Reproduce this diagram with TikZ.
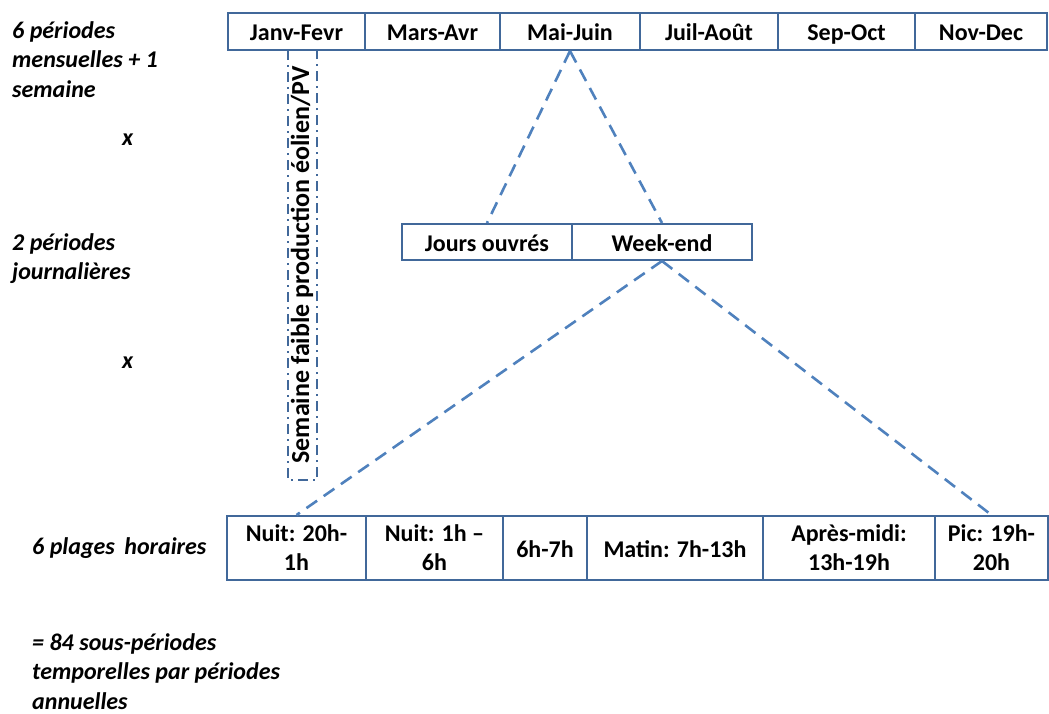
\documentclass[tikz,border=0pt]{standalone}
\usepackage{fontspec}
\setmainfont{Carlito}
\begin{document}
\begin{tikzpicture}[x=1pt,y=-1pt,
  cell/.style={draw=boxblue, line width=2pt, inner sep=0pt, font=\fontsize{24}{29}\selectfont\bfseries, align=center},
  one/.style={text height=20pt, text depth=2pt},
  lab/.style={anchor=north west, inner sep=0pt, font=\fontsize{24}{29.5}\selectfont\bfseries\itshape, align=left},
  link/.style={draw=linkblue, line width=2.6pt, dash pattern=on 13pt off 8pt},
  weekbox/.style={draw=boxblue, line width=2pt, dash pattern=on 10pt off 5pt on 2pt off 5pt, inner sep=0pt, font=\fontsize{26}{30}\selectfont\bfseries}]
\definecolor{boxblue}{HTML}{41689A}
\definecolor{linkblue}{HTML}{4F81BD}
\useasboundingbox (0,0) rectangle (1049,713);
% top row
\node[cell, one, minimum width=137pt, minimum height=37pt] (t1) at (296.5,31.5) {Janv-Fevr};
\node[cell, one, minimum width=135pt, minimum height=37pt] (t2) at (432.5,31.5) {Mars-Avr};
\node[cell, one, minimum width=140pt, minimum height=37pt] (t3) at (570,31.5) {Mai-Juin};
\node[cell, one, minimum width=138pt, minimum height=37pt] (t4) at (709,31.5) {Juil-Août};
\node[cell, one, minimum width=137pt, minimum height=37pt] (t5) at (846.5,31.5) {Sep-Oct};
\node[cell, one, minimum width=132pt, minimum height=37pt] (t6) at (981,31.5) {Nov-Dec};
% week box
\node[weekbox, rotate=90, text height=19pt, text depth=6pt, minimum width=430pt, minimum height=29pt] (wk) at (302.5,265) {Semaine faible production éolien/PV};
% middle row
\node[cell, one, minimum width=170pt, minimum height=36pt] (d1) at (487,242) {Jours ouvrés};
\node[cell, one, minimum width=180pt, minimum height=36pt] (d2) at (662,242) {Week-end};
% bottom row
\node[cell, minimum width=139pt, minimum height=64pt] (b1) at (296.5,548) {Nuit: 20h-\\1h};
\node[cell, minimum width=137pt, minimum height=64pt] (b2) at (434.5,548) {Nuit: 1h --\\6h};
\node[cell, one, minimum width=84pt, minimum height=64pt] (b3) at (545,548) {6h-7h};
\node[cell, one, minimum width=176pt, minimum height=64pt] (b4) at (675,548) {Matin: 7h-13h};
\node[cell, minimum width=172pt, minimum height=64pt] (b5) at (849,548) {Après-midi:\\13h-19h};
\node[cell, minimum width=113pt, minimum height=64pt] (b6) at (991.5,548) {Pic: 19h-\\20h};
% connectors
\draw[link] (t3.south) -- (d1.north);
\draw[link] (t3.south) -- (d2.north);
\draw[link] (d2.south) -- (b1.north);
\draw[link] (d2.south) -- (b6.north);
% left labels
\node[lab] (l1) at (12,21) {6 périodes\\mensuelles + 1\\semaine};
\node[lab] (x1) at (122,134) {x};
\node[lab] (l2) at (12,233) {2 périodes\\journalières};
\node[lab] (x2) at (122,357) {x};
\node[lab] (l3) at (32,537) {6 plages\, horaires};
\node[lab] (l4) at (32,633) {= 84 sous-périodes\\temporelles par périodes\\annuelles};
\end{tikzpicture}
\end{document}
